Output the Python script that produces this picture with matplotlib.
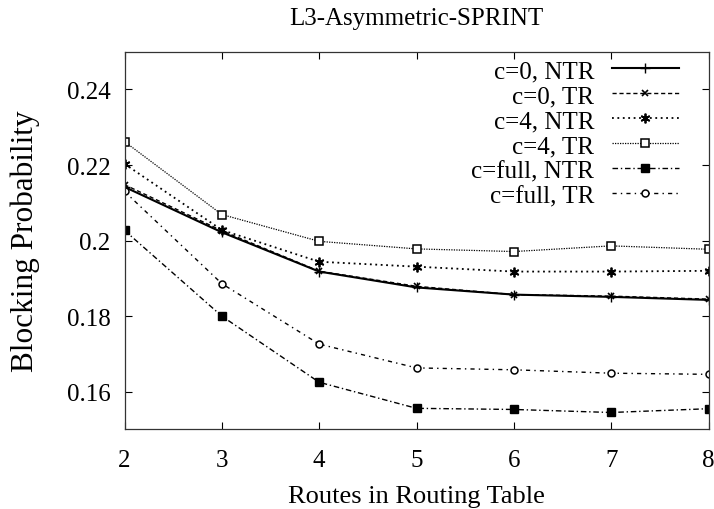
import matplotlib
matplotlib.use('Agg')
import matplotlib.pyplot as plt
from matplotlib.ticker import FuncFormatter

# routes in routing table
routes = [2, 3, 4, 5, 6, 7, 8]

# blocking probability
c0_ntr = [0.2142, 0.2022, 0.1918, 0.1876, 0.1857, 0.1851, 0.1843]
c0_tr = [0.2148, 0.2026, 0.1919, 0.1879, 0.1857, 0.1853, 0.1845]
c4_ntr = [0.2203, 0.2028, 0.1944, 0.1931, 0.1918, 0.1918, 0.1920]
c4_tr = [0.2262, 0.2069, 0.1998, 0.1978, 0.1971, 0.1986, 0.1977]
cfull_ntr = [0.2027, 0.1800, 0.1625, 0.1556, 0.1553, 0.1545, 0.1555]
cfull_tr = [0.2130, 0.1886, 0.1726, 0.1663, 0.1658, 0.1649, 0.1646]

labels = ['c=0, NTR', 'c=0, TR', 'c=4, NTR', 'c=4, TR', 'c=full, NTR', 'c=full, TR']

plt.rcParams['font.family'] = ['Liberation Serif', 'DejaVu Serif']
plt.rcParams['font.size'] = 18

fig = plt.figure(figsize=(7.14, 5.10), dpi=100)
ax = fig.add_axes([0.1744, 0.1559, 0.8179, 0.7408])

ax.plot(routes, c0_ntr, color='black', lw=1.5, ls='-', marker='+', ms=6.5, mew=1.0, label=labels[0])
ax.plot(routes, c0_tr, color='black', lw=1.0, ls=(0, (3, 2)), marker='x', ms=5, mew=1.2, label=labels[1])
ax.plot(routes, c4_ntr, color='black', lw=1.3, ls=(0, (1, 2)), marker=(6, 2, 0), ms=7, mew=1.3, label=labels[2])
ax.plot(routes, c4_tr, color='black', lw=0.9, ls=(0, (1, 1)), marker='s', ms=5.5, mew=1.1,
        mfc='white', label=labels[3])
ax.plot(routes, cfull_ntr, color='black', lw=1.0, ls=(0, (4, 2, 1, 2)), marker='s', ms=5.5,
        label=labels[4])
ax.plot(routes, cfull_tr, color='black', lw=1.0, ls=(0, (3, 3, 1, 3)), marker='o', ms=5, mew=1.1,
        mfc='white', label=labels[5])

ax.set_xlim(2, 8)
ax.set_ylim(0.15, 0.25)
ax.set_xticks(routes)
ax.set_yticks([0.16, 0.18, 0.20, 0.22, 0.24])
ax.yaxis.set_major_formatter(FuncFormatter(lambda v, p: '%g' % round(v, 4)))
ax.tick_params(direction='in', length=5, width=0.8, top=True, right=True)
ax.tick_params(axis='x', pad=14)
ax.tick_params(axis='y', pad=10)
for s in ax.spines.values():
    s.set_linewidth(0.9)
    s.set_color('#333333')

ax.set_title('L3-Asymmetric-SPRINT', fontsize=18, pad=20)
ax.set_xlabel('Routes in Routing Table', fontsize=19, labelpad=10)
ax.set_ylabel('Blocking Probability', fontsize=22.5, labelpad=19)

leg = ax.legend(loc='upper right', bbox_to_anchor=(0.9495, 0.979), frameon=False, markerfirst=False,
                borderpad=0, borderaxespad=0, handlelength=2.7, handletextpad=0.7, labelspacing=0.1)

fig.savefig('out.png', dpi=100)
